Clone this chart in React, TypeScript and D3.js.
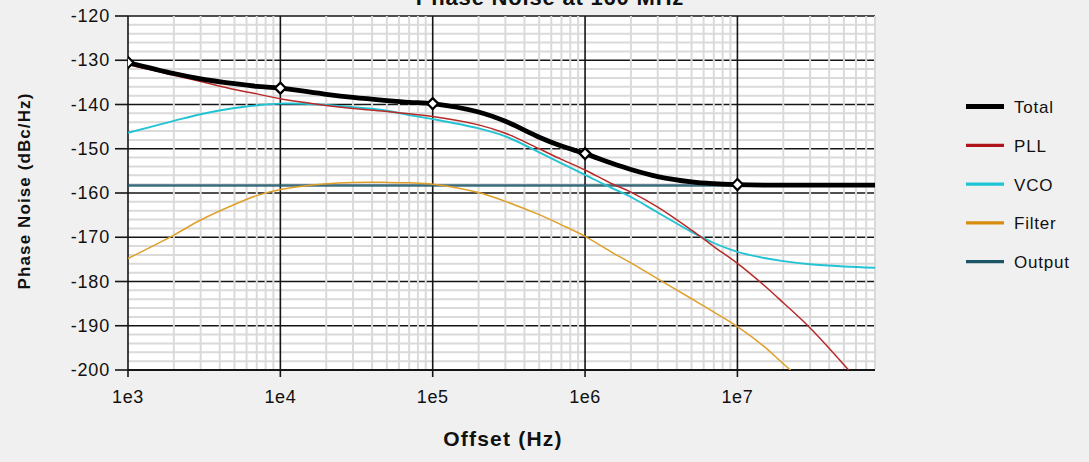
import React from "react";
import * as d3 from "d3";

const freqs = [1e3, 2e3, 3e3, 5e3, 7e3, 1e4, 2e4, 3e4, 5e4, 7e4, 1e5, 2e5, 3e5, 5e5, 7e5, 1e6, 1.5e6, 2e6, 3e6, 5e6, 7e6, 1e7, 1.5e7, 2e7, 3e7, 5e7, 8e7];
const totalNoise = [-130.5, -133.0, -134.2, -135.3, -135.9, -136.3, -137.7, -138.4, -139.1, -139.5, -139.8, -141.7, -143.8, -147.4, -149.4, -151.1, -153.3, -154.7, -156.3, -157.5, -157.9, -158.1, -158.2, -158.2, -158.2, -158.2, -158.2];
const pllNoise = [-131, -133.4, -134.8, -136.6, -137.6, -138.7, -140.2, -140.9, -141.6, -142.1, -142.7, -144.6, -146.5, -150.0, -152.4, -154.8, -157.9, -159.8, -163.2, -168.4, -172.1, -175.9, -180.9, -184.8, -190.5, -198.8, -207.0];
const vcoNoise = [-146.4, -143.7, -142.2, -140.8, -140.2, -139.8, -140.1, -140.6, -141.4, -142.4, -143.3, -145.4, -147.2, -150.8, -153.3, -155.9, -158.9, -160.9, -164.4, -168.8, -171.3, -173.3, -174.7, -175.4, -176.1, -176.6, -176.9];
const filterNoise = [-174.8, -169.5, -166.1, -162.6, -160.6, -159.2, -157.9, -157.6, -157.6, -157.7, -158.0, -159.9, -161.9, -164.9, -167.2, -169.8, -173.4, -175.8, -179.4, -183.9, -186.9, -190.2, -194.7, -198.6, -204.0, -211.0, -217.0];
const outputNoise = [-158.3, -158.3, -158.3, -158.3, -158.3, -158.3, -158.3, -158.3, -158.3, -158.3, -158.3, -158.3, -158.3, -158.3, -158.3, -158.3, -158.3, -158.3, -158.3, -158.3, -158.3, -158.3, -158.3, -158.3, -158.3, -158.3, -158.3];

const seriesNames = ["Total", "PLL", "VCO", "Filter", "Output"];
const markerFreqs = [1e3, 1e4, 1e5, 1e6, 1e7];
const xTickLabels = ["1e3", "1e4", "1e5", "1e6", "1e7"];
const yTicks = [-120, -130, -140, -150, -160, -170, -180, -190, -200];

const W = 1089;
const H = 462;
const L = 128, R = 875, T = 16, B = 370;

export default function App() {
  const x = d3.scaleLog().domain([1e3, 8e7]).range([L, R]);
  const y = d3.scaleLinear().domain([-200, -120]).range([B, T]);

  const seriesData = [totalNoise, pllNoise, vcoNoise, filterNoise, outputNoise];
  const plotColors = ["#000000", "#b82a2a", "#22c3d3", "#dfa02a", "#1b5566"];
  const legendColors = ["#000000", "#b0141b", "#1cc6d6", "#d68d10", "#1b5566"];
  const plotWidths = [4.8, 1.5, 1.9, 1.5, 2.6];
  const legendWidths = [5, 3.2, 3.2, 3.2, 3.2];
  const drawOrder = [4, 3, 2, 1, 0];

  const line = d3
    .line<number>()
    .x((_, i) => x(freqs[i]))
    .y((d) => y(d))
    .curve(d3.curveCatmullRom.alpha(0.5));

  const minorY = d3.range(-200, -119, 2).filter((v) => v % 10 !== 0);
  const majorY = d3.range(-200, -119, 10);
  const minorX: number[] = [];
  for (let e = 3; e <= 7; e++) {
    for (let m = 2; m <= 9; m++) {
      const f = m * Math.pow(10, e);
      if (f <= 8e7) minorX.push(f);
    }
  }

  const tickFont = "'Liberation Sans', Arial, sans-serif";

  return (
    <div style={{ position: "absolute", left: 0, top: 0 }}>
      <svg width={W} height={H} style={{ display: "block", background: "#f0f0f0" }}>
        <defs>
          <clipPath id="plotClip">
            <rect x={L} y={T} width={R - L} height={B - T} />
          </clipPath>
        </defs>
        <rect x={L} y={T} width={R - L} height={B - T} fill="#ffffff" />
        {minorY.map((v) => (
          <line key={"my" + v} x1={L} x2={R} y1={y(v)} y2={y(v)} stroke="#dadada" strokeWidth={2} />
        ))}
        {majorY.map((v) => (
          <line key={"My" + v} x1={L} x2={R} y1={y(v)} y2={y(v)} stroke="#151515" strokeWidth={1.6} />
        ))}
        {minorX.map((f) => (
          <line key={"mx" + f} x1={x(f)} x2={x(f)} y1={T} y2={B - 1} stroke="#dadada" strokeWidth={2} />
        ))}
        {markerFreqs.map((f) => (
          <line key={"Mx" + f} x1={x(f)} x2={x(f)} y1={T} y2={B} stroke="#151515" strokeWidth={1.6} />
        ))}
        <line x1={L} x2={R} y1={B} y2={B} stroke="#151515" strokeWidth={1.8} />

        {yTicks.map((v) => (
          <g key={"yt" + v}>
            <line x1={L - 13} x2={L} y1={y(v)} y2={y(v)} stroke="#151515" strokeWidth={1.6} />
            <text
              x={L - 18}
              y={y(v)}
              textAnchor="end"
              dominantBaseline="central"
              fontFamily={tickFont}
              fontSize={18}
              letterSpacing={0.8}
              fill="#111"
            >
              {v}
            </text>
          </g>
        ))}
        {markerFreqs.map((f, i) => (
          <g key={"xt" + f}>
            <line x1={x(f)} x2={x(f)} y1={B} y2={B + 7} stroke="#151515" strokeWidth={1.6} />
            <text
              x={x(f)}
              y={B + 27}
              textAnchor="middle"
              dominantBaseline="central"
              fontFamily={tickFont}
              fontSize={18}
              letterSpacing={0.6}
              fill="#111"
            >
              {xTickLabels[i]}
            </text>
          </g>
        ))}

        <g clipPath="url(#plotClip)">
          {drawOrder.map((si) => (
            <path
              key={"s" + si}
              d={line(seriesData[si]) || ""}
              fill="none"
              stroke={plotColors[si]}
              strokeWidth={plotWidths[si]}
              strokeOpacity={si === 4 ? 0.85 : 1}
              strokeLinejoin="round"
            />
          ))}
          {markerFreqs.map((f) => {
            const idx = freqs.indexOf(f);
            const cx = x(f);
            const cy = y(totalNoise[idx]);
            const s = 5.5;
            return (
              <path
                key={"mk" + f}
                d={`M${cx},${cy - s}L${cx + s},${cy}L${cx},${cy + s}L${cx - s},${cy}Z`}
                fill="#ffffff"
                stroke="#000"
                strokeWidth={2.2}
              />
            );
          })}
        </g>

        <text
          x={550}
          y={5}
          textAnchor="middle"
          fontFamily={tickFont}
          fontWeight="bold"
          fontSize={22}
          letterSpacing={0.8}
          fill="#111"
        >
          Phase Noise at 160 MHz
        </text>

        <text
          x={503}
          y={438}
          textAnchor="middle"
          dominantBaseline="central"
          fontFamily={tickFont}
          fontWeight="bold"
          fontSize={21}
          letterSpacing={1.2}
          fill="#111"
        >
          Offset (Hz)
        </text>
        <text
          transform={`translate(24,191) rotate(-90)`}
          textAnchor="middle"
          dominantBaseline="central"
          fontFamily={tickFont}
          fontWeight="bold"
          fontSize={17}
          letterSpacing={1.1}
          fill="#111"
        >
          Phase Noise (dBc/Hz)
        </text>

        {seriesNames.map((name, i) => {
          const ly = 106.5 + i * 38.8;
          return (
            <g key={"lg" + name}>
              <line x1={966} x2={1004} y1={ly} y2={ly} stroke={legendColors[i]} strokeWidth={legendWidths[i]} />
              <text
                x={1014}
                y={ly + 1}
                dominantBaseline="central"
                fontFamily={tickFont}
                fontSize={17}
                letterSpacing={0.8}
                fill="#111"
              >
                {name}
              </text>
            </g>
          );
        })}
      </svg>
    </div>
  );
}
